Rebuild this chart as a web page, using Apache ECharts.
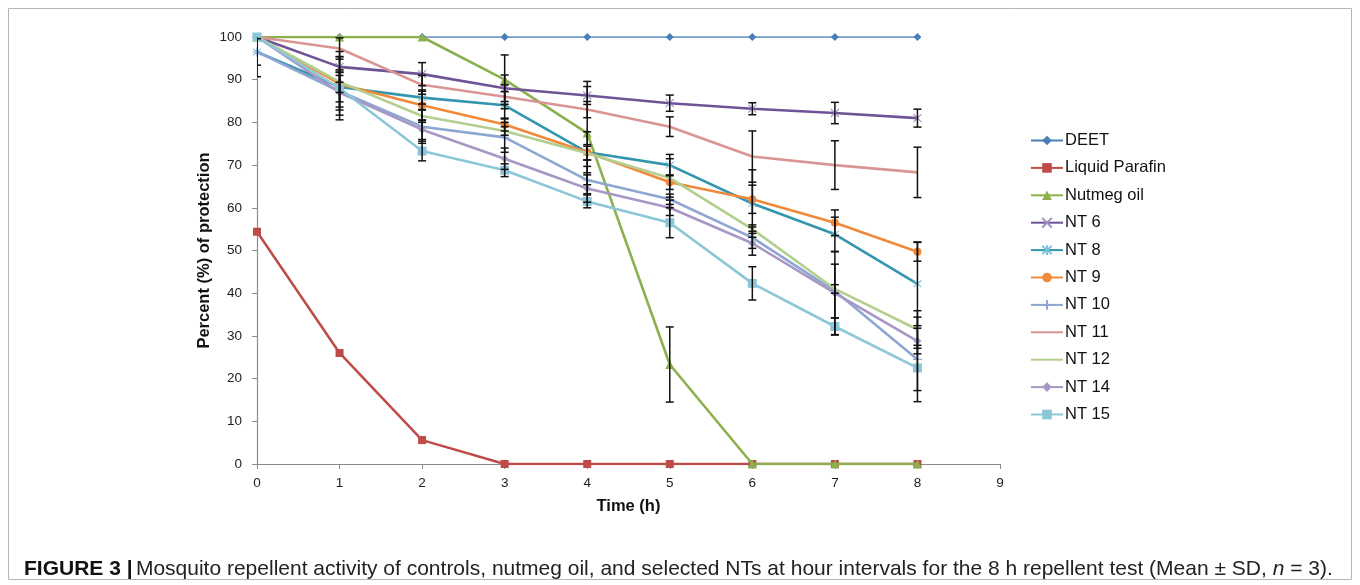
<!DOCTYPE html>
<html>
<head>
<meta charset="utf-8">
<script src="https://cdn.jsdelivr.net/npm/echarts@6/dist/echarts.min.js"></script>
<style>
html,body{margin:0;padding:0;background:#fff;}
#chart{width:1360px;height:585px;}
</style>
</head>
<body>
<div id="chart"></div>
<script>
// ---- Data ----
var hours = [0, 1, 2, 3, 4, 5, 6, 7, 8];
var xTicks = [0, 1, 2, 3, 4, 5, 6, 7, 8, 9];
var yTicks = [0, 10, 20, 30, 40, 50, 60, 70, 80, 90, 100];

var seriesNames = ['DEET', 'Liquid Parafin', 'Nutmeg oil', 'NT 6', 'NT 8', 'NT 9', 'NT 10', 'NT 11', 'NT 12', 'NT 14', 'NT 15'];

var deet          = [100, 100, 100, 100, 100, 100, 100, 100, 100];
var liquidParafin = [54.4, 26, 5.6, 0, 0, 0, 0, 0, 0];
var nutmegOil     = [100, 100, 100, 90, 77.5, 23.3, 0, 0, 0];
var nt6           = [100, 93, 91.3, 88, 86.3, 84.5, 83.2, 82.2, 81];
var nt8           = [96.5, 88.3, 85.8, 84, 73, 70, 61, 53.8, 42.2];
var nt9           = [100, 89, 84, 79.5, 73, 66, 62, 56.5, 49.7];
var nt10          = [96.5, 87.3, 79, 76.5, 66.5, 62, 53, 40.5, 24.5];
var nt11          = [100, 97.3, 88.8, 86, 83, 79, 72, 70, 68.3];
var nt12          = [100, 89.5, 81.5, 78, 72.8, 67, 55, 41, 31.5];
var nt14          = [100, 87, 78.3, 71.5, 64.5, 60, 51.7, 40, 28.8];
var nt15          = [100, 88, 73.3, 68.8, 61.5, 56.5, 42.3, 32.2, 22.5];

// standard deviations (error bars)
var sdDeet     = [0, 0, 0, 0, 0, 0, 0, 0, 0];
var sdParafin  = [0, 0, 0, 0, 0, 0, 0, 0, 0];
var sdNutmeg   = [0, 0, 0, 5.8, 12.1, 8.8, 0, 0, 0];
var sdNt6      = [0, 3.6, 2.7, 3.1, 2.1, 1.9, 1.4, 2.5, 2.1];
var sdNt8      = [3.1, 3.5, 1.5, 3.2, 4.8, 2.5, 7.9, 4, 9.8];
var sdNt9      = [0, 2, 3.6, 1.5, 1.8, 1.7, 3.3, 3, 2.2];
var sdNt10     = [5.8, 4.4, 3.9, 3.5, 3.2, 1.2, 2.5, 6.3, 9.9];
var sdNt11     = [0, 2.5, 2.2, 2.8, 1.9, 2.3, 6, 5.7, 5.9];
var sdNt12     = [0, 5.9, 1.5, 1, 1.6, 4.5, 1, 1, 4.4];
var sdNt14     = [0, 5.3, 2.3, 2.5, 3.2, 1.8, 2.8, 9.7, 3];
var sdNt15     = [0, 7.4, 2.3, 1.5, 1.5, 3.5, 3.9, 2, 5.3];

var allValues = [deet, liquidParafin, nutmegOil, nt6, nt8, nt9, nt10, nt11, nt12, nt14, nt15];
var allSd = [sdDeet, sdParafin, sdNutmeg, sdNt6, sdNt8, sdNt9, sdNt10, sdNt11, sdNt12, sdNt14, sdNt15];

// ---- Styles ----
var colors = ['#4A7EBB', '#BE4B48', '#8DB04E', '#6E5396', '#3396AE', '#F08A3A', '#8EA6D2', '#D99594', '#B3CF8F', '#A897C5', '#8CC6D9'];
var markerColors = ['#4A7EBB', '#BE4B48', '#8DB04E', '#A090C0', '#7CC4DA', '#F08A3A', '#8EA6D2', '#D99594', '#B3CF8F', '#A897C5', '#8CC6D9'];
var xPath = 'path://M0,0L10,10M10,0L0,10';
var starPath = 'path://M0,0L10,10M10,0L0,10M5,-1L5,11';
var plusPath = 'path://M5,0L5,10M0,5L10,5';
var symbols = ['diamond', 'rect', 'triangle', xPath, starPath, 'circle', plusPath, 'none', 'none', 'diamond', 'rect'];
var symbolSizes = [8, 8, 9, 8, 8, 8, 9, 0, 0, 8, 9];
var lineWidths = [1.6, 2.5, 2.6, 2.6, 2.6, 2.6, 2.6, 2.6, 2.6, 2.6, 2.6];
var strokeSymbol = [false, false, false, true, true, false, true, false, false, false, false];

var FONT = '"Liberation Sans", Arial, sans-serif';

var series = [];
seriesNames.forEach(function (name, i) {
  var data = hours.map(function (h, j) { return [h, allValues[i][j]]; });
  series.push({
    name: name,
    type: 'line',
    data: data,
    symbol: symbols[i],
    symbolSize: symbolSizes[i],
    showSymbol: symbols[i] !== 'none',
    z: 2 + i,
    lineStyle: { color: colors[i], width: lineWidths[i] },
    itemStyle: strokeSymbol[i]
      ? { color: 'rgba(0,0,0,0)', borderColor: markerColors[i], borderWidth: 1.1 }
      : { color: markerColors[i], borderWidth: 0 },
    emphasis: { disabled: true },
    animation: false
  });
});

// error bars
var errData = [];
seriesNames.forEach(function (name, i) {
  hours.forEach(function (h, j) {
    var sd = allSd[i][j];
    if (sd > 0) errData.push([h, allValues[i][j] - sd, allValues[i][j] + sd]);
  });
});
series.push({
  name: 'err',
  type: 'custom',
  data: errData,
  z: 20,
  clip: true,
  silent: true,
  animation: false,
  renderItem: function (params, api) {
    var x = api.value(0);
    var lo = api.coord([x, api.value(1)]);
    var hi = api.coord([x, api.value(2)]);
    var half = 4;
    var st = { stroke: '#111', lineWidth: 1.5 };
    return {
      type: 'group',
      children: [
        { type: 'line', shape: { x1: lo[0], y1: lo[1], x2: hi[0], y2: hi[1] }, style: st },
        { type: 'line', shape: { x1: lo[0] - half, y1: lo[1], x2: lo[0] + half, y2: lo[1] }, style: st },
        { type: 'line', shape: { x1: hi[0] - half, y1: hi[1], x2: hi[0] + half, y2: hi[1] }, style: st }
      ]
    };
  }
});

var legendData = seriesNames.map(function (name, i) {
  if (symbols[i] === 'none') {
    return { name: name, itemStyle: { color: 'rgba(0,0,0,0)', borderWidth: 0, opacity: 0 } };
  }
  return { name: name };
});

var chart = echarts.init(document.getElementById('chart'), null, { renderer: 'canvas' });
chart.setOption({
  backgroundColor: '#fff',
  animation: false,
  textStyle: { fontFamily: FONT },
  grid: { left: 257, right: 360, top: 37, bottom: 121, containLabel: false },
  xAxis: {
    type: 'value',
    min: xTicks[0],
    max: xTicks[xTicks.length - 1],
    interval: 1,
    name: 'Time (h)',
    nameLocation: 'middle',
    nameGap: 34,
    nameMoveOverlap: false,
    nameTextStyle: { fontFamily: FONT, fontSize: 16.5, fontWeight: 'bold', color: '#111' },
    axisLine: { lineStyle: { color: '#8a8a8a', width: 1.2 } },
    axisTick: { show: true, length: 5, lineStyle: { color: '#8a8a8a' } },
    axisLabel: { fontFamily: FONT, fontSize: 13.5, color: '#222', margin: 12 },
    splitLine: { show: false }
  },
  yAxis: {
    type: 'value',
    min: yTicks[0],
    max: yTicks[yTicks.length - 1],
    interval: 10,
    name: 'Percent (%) of protection',
    nameLocation: 'middle',
    nameGap: 44,
    nameMoveOverlap: false,
    nameTextStyle: { fontFamily: FONT, fontSize: 16.5, fontWeight: 'bold', color: '#111' },
    axisLine: { show: true, lineStyle: { color: '#8a8a8a', width: 1.2 } },
    axisTick: { show: true, length: 5, lineStyle: { color: '#8a8a8a' } },
    axisLabel: { fontFamily: FONT, fontSize: 13.5, color: '#222', margin: 15 },
    splitLine: { show: false }
  },
  legend: {
    data: legendData,
    orient: 'vertical',
    left: 1025,
    top: 127,
    itemWidth: 32,
    itemHeight: 12,
    itemGap: 10.4,
    textStyle: { fontFamily: FONT, fontSize: 16.5, color: '#111', padding: [0, 0, 0, -3] },
    selectedMode: false
  },
  graphic: [
    {
      type: 'rect',
      shape: { x: 8.5, y: 8.5, width: 1343, height: 571 },
      style: { fill: 'none', stroke: '#b5b5b5', lineWidth: 1 },
      silent: true
    },
    {
      type: 'text',
      left: 24,
      top: 559,
      style: {
        text: '{b|FIGURE 3 |} {r|Mosquito repellent activity of controls, nutmeg oil, and selected NTs at hour intervals for the 8 h repellent test (Mean ± SD, }{i|n}{r| = 3).}',
        rich: {
          b: { fontFamily: FONT, fontSize: 21, fontWeight: 'bold', fill: '#111' },
          r: { fontFamily: FONT, fontSize: 21, fill: '#222' },
          i: { fontFamily: FONT, fontSize: 21, fontStyle: 'italic', fill: '#222' }
        }
      }
    }
  ],
  series: series
});
</script>
</body>
</html>
